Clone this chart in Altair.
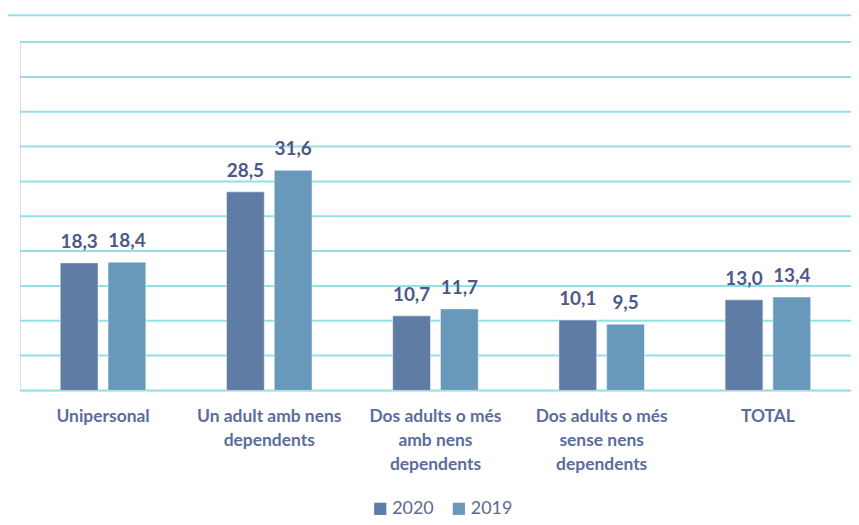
import altair as alt
import pandas as pd

categories = ["Unipersonal", "Un adult amb nens|dependents", "Dos adults o més|amb nens|dependents",
              "Dos adults o més|sense nens|dependents", "TOTAL"]
years = ["2020", "2019"]
values_2020 = [18.3, 28.5, 10.7, 10.1, 13.0]
values_2019 = [18.4, 31.6, 11.7, 9.5, 13.4]
grid_values = [0, 5, 10, 15, 20, 25, 30, 35, 40, 45, 50]

rows = []
for c, a, b in zip(categories, values_2020, values_2019):
    rows.append({"cat": c, "year": "2020", "value": a})
    rows.append({"cat": c, "year": "2019", "value": b})
df = pd.DataFrame(rows)

FONT = "Lato"
colors = ["#5f7ca4", "#6899bb"]
GRID = "#93dfe8"

x = alt.X("cat:N", sort=categories, title=None,
          scale=alt.Scale(paddingInner=0.485, paddingOuter=0.2425),
          axis=alt.Axis(labelExpr="split(datum.label, '|')", labelAngle=0, ticks=False,
                        domain=False, grid=False, labelPadding=17, labelFont=FONT, labelFontSize=17.5,
                        labelFontWeight="bold", labelColor="#5b6d9c", labelLineHeight=24,
                        labelBaseline="top", labelLimit=300))
xo = alt.XOffset("year:N", sort=years,
                 scale=alt.Scale(paddingInner=0.2083, paddingOuter=0))
y = alt.Y("value:Q", title=None, scale=alt.Scale(domain=[0, 50]), axis=None)

grid = alt.Chart(pd.DataFrame({"value": grid_values})).mark_rule(
    color=GRID, strokeWidth=2).encode(
    y=y, x=alt.value(0), x2=alt.value(835))

bars = alt.Chart(df).mark_bar(stroke="#ffffff", strokeWidth=0.5).encode(
    x=x, xOffset=xo, y=y,
    color=alt.Color("year:N", sort=years, scale=alt.Scale(domain=years, range=colors),
                    legend=alt.Legend(title=None, orient="none", legendX=353, legendY=460,
                                      direction="horizontal", symbolType="square",
                                      symbolSize=150, symbolStrokeWidth=0,
                                      labelFont=FONT, labelFontSize=18,
                                      labelColor="#5b6a8e", columnPadding=16,
                                      labelOffset=3)),
)

labels = alt.Chart(df).transform_calculate(
    txt="replace(format(datum.value, '.1f'), '.', ',')"
).mark_text(font=FONT, fontSize=19, fontWeight="bold", color="#4d5889",
            baseline="alphabetic", dy=-15).encode(
    x=x, xOffset=xo, y=y, text="txt:N")

top_line = alt.Chart(pd.DataFrame({"v": [0]})).mark_rule(color=GRID, strokeWidth=2).encode(
    x=alt.value(-14), x2=alt.value(840), y=alt.value(-27))

chart = alt.layer(grid, bars, labels, top_line).properties(
    width=835, height=350,
    autosize=alt.AutoSizeParams(type="none"),
    padding={"left": 12, "top": 33, "right": 0, "bottom": 126},
).configure_view(stroke="transparent", strokeWidth=0).configure(background="#ffffff")

chart.save("out.html", embed_options={"renderer": "svg", "actions": False})
